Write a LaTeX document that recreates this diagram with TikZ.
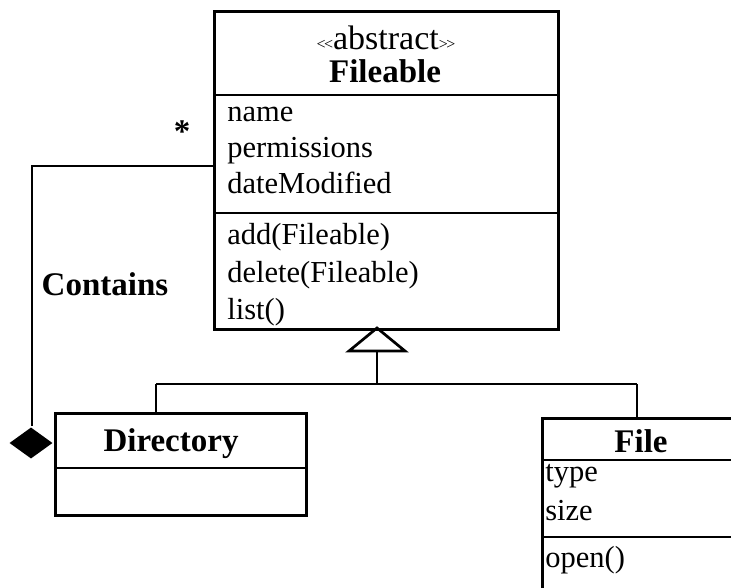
\documentclass[tikz,border=0pt]{standalone}
\usepackage{fontspec}
\setmainfont{Liberation Serif}
\usetikzlibrary{shapes.geometric}
\begin{document}
\begin{tikzpicture}[x=1pt, y=-1pt,
  line width=2.7pt,
  classbox/.style={draw, rectangle, inner sep=0pt, anchor=north west},
  attr/.style={anchor=base west, inner sep=0pt, font=\fontsize{30.5}{36}\selectfont},
  classname/.style={anchor=base, inner sep=0pt, font=\bfseries\fontsize{33}{40}\selectfont},
  stereo/.style={anchor=base, inner sep=0pt, font=\fontsize{34}{40}\selectfont},
  guill/.style={font=\fontsize{17}{20}\selectfont},
  assoc/.style={anchor=base, inner sep=0pt, font=\bfseries\fontsize{33}{40}\selectfont},
  aggmark/.style={diamond, fill=black, draw=none, inner sep=0pt, minimum width=44pt, minimum height=32pt}]
\useasboundingbox (0,0) rectangle (731,588);
\clip (0,0) rectangle (731,588);

% abstract class Fileable
\node[classbox, minimum width=344pt, minimum height=318pt] (fileable) at (213,10) {};
\draw (fileable.west |- 0,95) -- (fileable.east |- 0,95);
\draw (fileable.west |- 0,213) -- (fileable.east |- 0,213);
\node[stereo] (stereotype) at (386,50) {{\fontsize{16}{18}\selectfont<\kern-1.5pt<}abstract{\fontsize{16}{18}\selectfont>\kern-1.5pt>}};
\node[classname] (fileablename) at (385,83) {Fileable};
\node[attr] (aname) at (226,122) {name};
\node[attr] (aperm) at (226,158) {permissions};
\node[attr] (adate) at (226,194) {dateModified};
\node[attr] (madd) at (226,245) {add(Fileable)};
\node[attr] (mdel) at (226,282) {delete(Fileable)};
\node[attr] (mlist) at (226,319) {list()};

% class Directory
\node[classbox, minimum width=251pt, minimum height=102pt] (directory) at (54,412) {};
\draw (directory.west |- 0,468) -- (directory.east |- 0,468);
\node[classname] (dirname) at (171,451) {Directory};

% class File
\node[classbox, minimum width=200pt, minimum height=220pt] (file) at (541,417) {};
\draw (file.west |- 0,460) -- (file.east |- 0,460);
\draw (file.west |- 0,537) -- (file.east |- 0,537);
\node[classname] (filename) at (641,452) {File};
\node[attr] (ftype) at (544,481) {type};
\node[attr] (fsize) at (544,520) {size};
\node[attr] (fopen) at (544,567) {open()};

% generalization: Directory and File inherit from Fileable
\coordinate (tip) at (377,328);
\coordinate (base) at (377,351);
\coordinate (junction) at (377,384);
\coordinate (dirjoin) at (156,384);
\coordinate (filejoin) at (637,384);
\draw (tip) -- ++(-28,23) -- ++(56,0) -- cycle;
\draw (base) -- (junction);
\draw (dirjoin) -- (filejoin);
\draw (dirjoin) -- (dirjoin |- directory.north);
\draw (filejoin) -- (filejoin |- file.north);

% composition: Directory contains Fileables
\node[aggmark] (whole) at (31,443) {};
\coordinate (bend) at (32,166);
\draw (fileable.west |- bend) -- (bend) -- (bend |- whole.north);
\node[assoc] (multiplicity) at (182,143) {*};
\node[assoc] (contains) at (105,295) {Contains};
\end{tikzpicture}
\end{document}
